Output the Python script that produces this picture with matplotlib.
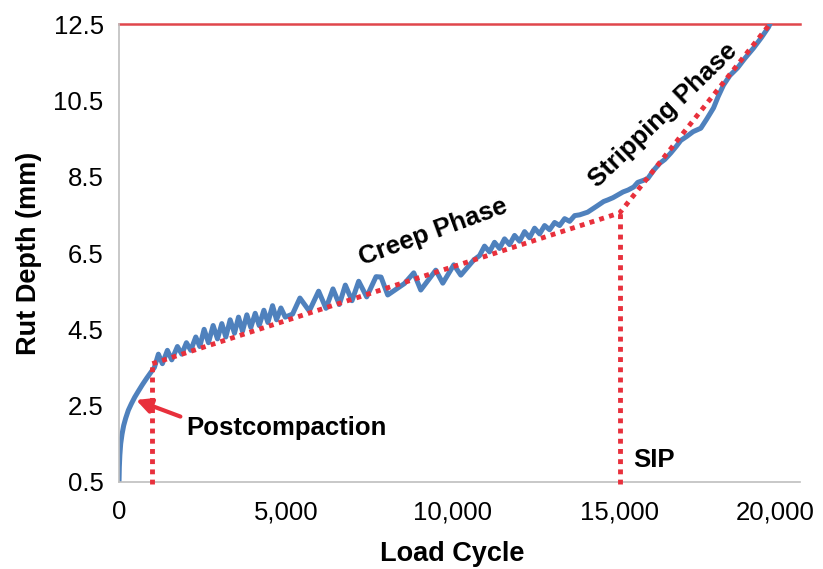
import matplotlib.pyplot as plt
from matplotlib.transforms import ScaledTranslation

plt.rcParams['font.family'] = ['Liberation Sans', 'DejaVu Sans']

# Measured rut depth vs load cycle
cycles = [0, 10, 25, 50, 90, 140, 200, 280, 370, 470, 580, 700, 830, 960, 1060,
          1180, 1300, 1450, 1580, 1750, 1880, 2020, 2150, 2300, 2420,
          2550, 2680, 2820, 2950, 3080, 3200, 3330, 3460, 3580, 3700, 3830, 3950,
          4080, 4200, 4340, 4460, 4600, 4720, 4850, 4980,
          5200, 5420, 5700, 5980, 6200, 6410, 6600, 6780, 6980, 7180, 7420, 7700,
          7850, 8050, 8300, 8550, 8830, 9040, 9490, 9700, 10030, 10240, 10630,
          10800, 10950, 11100, 11250, 11400, 11550, 11700, 11850, 12000, 12150,
          12300, 12450, 12600, 12750, 12900, 13050, 13200, 13350, 13500, 13650,
          13800, 14040, 14300, 14520, 14640, 14800, 14940, 15100, 15250, 15420,
          15540, 15700, 15840, 16020, 16200, 16350, 16530, 16700, 16830, 17000,
          17200, 17430, 17600, 17810, 17950, 18110, 18300, 18530, 18750, 19010,
          19250, 19460, 19500]
rut_depth = [0.5, 0.9, 1.2, 1.5, 1.75, 1.98, 2.17, 2.38, 2.55, 2.72, 2.88, 3.05, 3.22, 3.38, 3.5,
             3.85, 3.6, 3.95, 3.7, 4.05, 3.85, 4.15, 3.95, 4.3, 4.05,
             4.5, 4.15, 4.6, 4.25, 4.65, 4.3, 4.75, 4.4, 4.82, 4.45, 4.88, 4.55,
             4.92, 4.6, 5.0, 4.68, 5.12, 4.75, 5.06, 4.82,
             4.9, 5.32, 4.98, 5.5, 5.05, 5.56, 5.15, 5.66, 5.25, 5.76, 5.35, 5.88,
             5.87, 5.4, 5.55, 5.7, 5.98, 5.53, 6.05, 5.71, 6.19, 5.92, 6.32,
             6.43, 6.68, 6.53, 6.78, 6.62, 6.87, 6.72, 6.96, 6.81, 7.06,
             6.9, 7.15, 7.0, 7.22, 7.11, 7.3, 7.22, 7.4, 7.33, 7.48,
             7.5, 7.57, 7.72, 7.85, 7.89, 7.95, 8.02, 8.1, 8.15, 8.23,
             8.35, 8.4, 8.45, 8.67, 8.85, 8.95, 9.12, 9.3, 9.45, 9.55,
             9.68, 9.77, 10.0, 10.3, 10.6, 10.9, 11.15, 11.35, 11.6, 11.87,
             12.15, 12.42, 12.5]

# Three-phase fit: postcompaction point, stripping inflection point (SIP), failure
fit_cycles = [1000, 15000, 19500]
fit_depth = [3.6, 7.55, 12.5]
max_depth = 12.5

x_ticks = [0, 5000, 10000, 15000, 20000]
x_tick_labels = ['0', '5,000', '10,000', '15,000', '20,000']
y_ticks = [0.5, 2.5, 4.5, 6.5, 8.5, 10.5, 12.5]
y_tick_labels = ['0.5', '2.5', '4.5', '6.5', '8.5', '10.5', '12.5']

blue = '#4F81BD'
red = '#E8303C'

fig = plt.figure(figsize=(8.23, 5.69), dpi=100)
ax = fig.add_axes([0.1446, 0.1529, 0.8274, 0.8049])

ax.plot(cycles, rut_depth, color=blue, lw=3.6, solid_joinstyle='round', zorder=2)
ax.plot(fit_cycles, fit_depth, color=red, lw=3.5, linestyle=(0, (1, 1.1)), zorder=3)
for xc, yc in zip(fit_cycles[:2], fit_depth[:2]):
    ax.plot([xc, xc], [0.45, yc], color=red, lw=3.5, linestyle=(0, (1, 1.1)),
            clip_on=False, zorder=3)
ax.axhline(max_depth, color='#E0474C', lw=1.8, clip_on=False, zorder=1)

ax.set_xlim(0, 20400)
ax.set_ylim(0.5, 12.5)
ax.set_xticks(x_ticks)
ax.set_xticklabels(x_tick_labels)
ax.set_yticks(y_ticks)
ax.set_yticklabels(y_tick_labels)
ax.tick_params(length=0, labelsize=18.5)
ax.tick_params(axis='x', pad=13)
ax.tick_params(axis='y', pad=11)

# keep the last x label inside the figure
last = ax.get_xticklabels()[-1]
last.set_transform(last.get_transform() + ScaledTranslation(-8 / 72, 0, fig.dpi_scale_trans))

for side in ['top', 'right']:
    ax.spines[side].set_visible(False)
for side in ['left', 'bottom']:
    ax.spines[side].set_color('#BFBFBF')
    ax.spines[side].set_linewidth(1.2)

ax.set_xlabel('Load Cycle', fontsize=19.5, fontweight='bold')
ax.set_ylabel('Rut Depth (mm)', fontsize=19.5, fontweight='bold')
ax.xaxis.set_label_coords(0.489, -0.128)
ax.yaxis.set_label_coords(-0.113, 0.5)

ax.text(9400, 7.05, 'Creep Phase', fontsize=18.5, fontweight='bold',
        rotation=20, ha='center', va='center', rotation_mode='anchor')
ax.text(16290, 10.12, 'Stripping Phase', fontsize=18.5, fontweight='bold',
        rotation=44, ha='center', va='center', rotation_mode='anchor')
ax.text(15390, 1.08, 'SIP', fontsize=18.5, fontweight='bold', ha='left', va='center')

ax.annotate('Postcompaction', xy=(510, 2.65), xytext=(2000, 1.91),
            fontsize=18.5, fontweight='bold', ha='left', va='center',
            arrowprops=dict(arrowstyle='-|>', color=red, lw=3, mutation_scale=22,
                            shrinkA=2, shrinkB=0,
                            relpos=(0.0, 0.9)))

fig.savefig('out.png', dpi=100)
